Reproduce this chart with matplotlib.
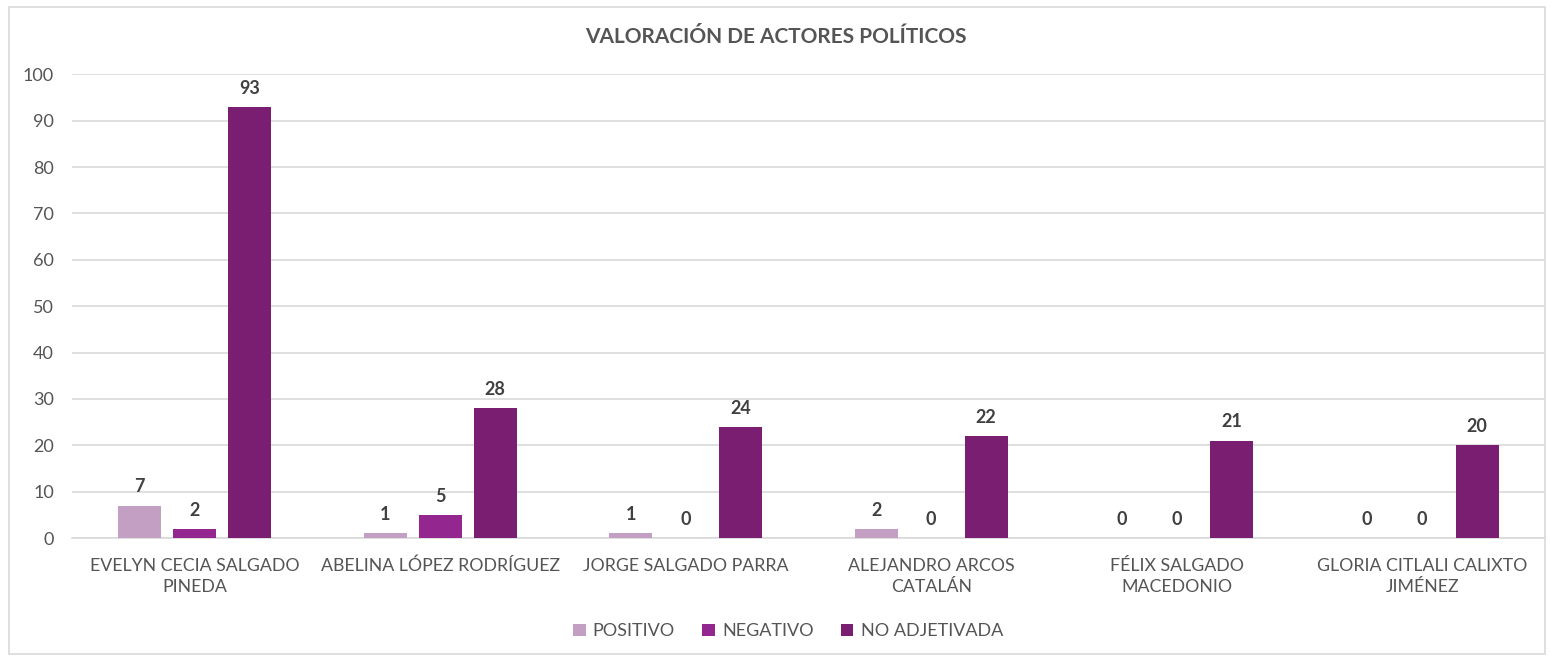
import numpy as np
import matplotlib.pyplot as plt
import matplotlib.patches as mpatches

actores = ["EVELYN CECIA SALGADO\nPINEDA", "ABELINA LÓPEZ RODRÍGUEZ", "JORGE SALGADO PARRA",
           "ALEJANDRO ARCOS\nCATALÁN", "FÉLIX SALGADO\nMACEDONIO", "GLORIA CITLALI CALIXTO\nJIMÉNEZ"]
positivo = [7, 1, 1, 2, 0, 0]
negativo = [2, 5, 0, 0, 0, 0]
no_adjetivada = [93, 28, 24, 22, 21, 20]
series = ["POSITIVO", "NEGATIVO", "NO ADJETIVADA"]
colores = ["#C3A0C3", "#93278F", "#7A1E72"]

plt.rcParams['font.family'] = ['Lato', 'DejaVu Sans']
gris = "#555555"

fig = plt.figure(figsize=[15.51, 6.57], dpi=100)
ax = fig.add_axes([0.0464, 0.181, 0.9497, 0.706])

x = np.arange(len(actores))
w = 0.175
paso = 0.224
for i, (vals, nombre, c) in enumerate(zip([positivo, negativo, no_adjetivada], series, colores)):
    pos = x + (i - 1) * paso
    ax.bar(pos, vals, width=w, color=c, label=nombre, zorder=3)
    for p, v in zip(pos, vals):
        ax.text(p, v + 2.2, str(v), ha='center', va='bottom', fontsize=13,
                fontweight='bold', color="#404040")

ax.set_ylim(0, 100)
ax.set_xlim(-0.5, len(actores) - 0.5)
ax.set_yticks(range(0, 101, 10))
ax.yaxis.grid(True, color="#D9D9D9", linewidth=1.2, zorder=0)
ax.set_xticks(x)
ax.set_xticklabels(actores, fontsize=12.8, color=gris, linespacing=1.4)
ax.tick_params(axis='y', labelsize=13, labelcolor=gris, length=0, pad=13)
ax.tick_params(axis='x', length=0, pad=14)
for s in ['top', 'right', 'left']:
    ax.spines[s].set_visible(False)
ax.spines['bottom'].set_color("#D9D9D9")
ax.spines['bottom'].set_linewidth(1.2)

fig.text(0.5, 0.943, "VALORACIÓN DE ACTORES POLÍTICOS", ha='center', va='center',
         fontsize=15, fontweight='bold', color=gris)

leg = fig.legend(loc='center', bbox_to_anchor=(0.508, 0.039), ncol=3, frameon=False,
                 fontsize=13, handlelength=0.7, handleheight=0.7, columnspacing=1.5,
                 handletextpad=0.4)
for t in leg.get_texts():
    t.set_color(gris)

# marco del grafico
marco = mpatches.Rectangle((0.006, 0.005), 0.99, 0.985, transform=fig.transFigure,
                           fill=False, edgecolor="#D9D9D9", linewidth=1.2)
fig.patches.append(marco)

fig.savefig("out.png", dpi=100)
